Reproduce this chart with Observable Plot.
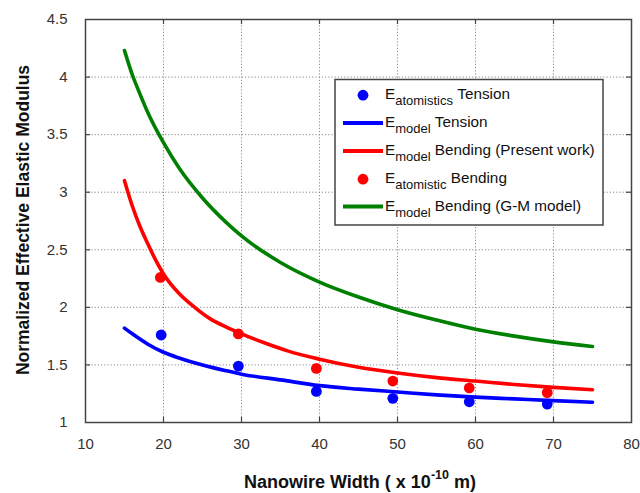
<!DOCTYPE html>
<html>
<head>
<meta charset="utf-8">
<script src="https://cdn.jsdelivr.net/npm/d3@7"></script>
<script src="https://cdn.jsdelivr.net/npm/@observablehq/plot@0.6"></script>
<style>
  html, body { margin: 0; padding: 0; background: #fff; }
  #chart { width: 640px; height: 493px; overflow: hidden; }
</style>
</head>
<body>
<div id="chart"></div>
<script>
// ---- data ----
const xTicks = [10, 20, 30, 40, 50, 60, 70, 80];
const yTicks = [1, 1.5, 2, 2.5, 3, 3.5, 4, 4.5];

// atomistic points
const tensionPtsX = [19.7, 29.6, 39.6, 49.4, 59.2, 69.2];
const tensionPtsY = [1.76, 1.49, 1.27, 1.21, 1.18, 1.16];
const bendingPtsX = [19.6, 29.6, 39.6, 49.4, 59.2, 69.2];
const bendingPtsY = [2.26, 1.77, 1.47, 1.36, 1.30, 1.26];

// model curves
const tensionLineX = [15, 16, 18, 20, 22, 25, 28, 30, 35, 40, 45, 50, 55, 60, 65, 70, 75];
const tensionLineY = [1.82, 1.77, 1.68, 1.61, 1.56, 1.50, 1.45, 1.42, 1.37, 1.32, 1.29, 1.265, 1.24, 1.22, 1.205, 1.19, 1.176];

const presentLineX = [15, 16, 17, 18, 19, 20, 22, 24, 26, 28, 30, 33, 36, 40, 45, 50, 55, 60, 65, 70, 75];
const presentLineY = [3.10, 2.88, 2.70, 2.55, 2.41, 2.29, 2.12, 2.00, 1.90, 1.83, 1.77, 1.69, 1.62, 1.55, 1.48, 1.43, 1.39, 1.36, 1.33, 1.305, 1.285];

const gmLineX = [15, 16, 17, 18, 20, 22, 25, 28, 30, 35, 40, 45, 50, 55, 60, 65, 70, 75];
const gmLineY = [4.23, 4.02, 3.85, 3.69, 3.43, 3.21, 2.95, 2.74, 2.62, 2.39, 2.22, 2.09, 1.98, 1.89, 1.81, 1.75, 1.70, 1.66];

// legend
const legendSubs = ["atomistics", "model", "model", "atomistic", "model"];
const legendRest = ["Tension", "Tension", "Bending (Present work)", "Bending", "Bending (G-M model)"];
const legendKinds = ["dot", "line", "line", "dot", "line"];
const legendColors = ["#0000ff", "#0000ff", "#ff0000", "#ff0000", "#008000"];

const xLabelMain = "Nanowire Width ( x 10";
const xLabelSup = "-10";
const xLabelEnd = " m)";
const yLabel = "Normalized Effective Elastic Modulus";

// ---- build tables ----
const zip = (xs, ys) => xs.map((x, i) => ({x, y: ys[i]}));
const tensionPts = zip(tensionPtsX, tensionPtsY);
const bendingPts = zip(bendingPtsX, bendingPtsY);
const tensionLine = zip(tensionLineX, tensionLineY);
const presentLine = zip(presentLineX, presentLineY);
const gmLine = zip(gmLineX, gmLineY);

const gridX = xTicks.slice(1, -1);
const gridY = yTicks.slice(1, -1);
const tickLenX = 5 / 7.8;
const tickLenY = 5 / 115.1;

const FONT = "'Liberation Sans', Arial, Helvetica, sans-serif";

const chart = Plot.plot({
  width: 640,
  height: 493,
  marginLeft: 85,
  marginRight: 9,
  marginTop: 19,
  marginBottom: 71,
  style: {fontFamily: FONT, fontSize: "15px", background: "#fff", color: "#333"},
  x: {domain: [10, 80]},
  y: {domain: [1, 4.5]},
  marks: [
    Plot.ruleX(gridX, {stroke: "#8a8a8a", strokeWidth: 1, strokeDasharray: "1.2,2"}),
    Plot.ruleY(gridY, {stroke: "#8a8a8a", strokeWidth: 1, strokeDasharray: "1.2,2"}),
    // inward tick marks on all four sides
    Plot.ruleX(gridX, {y1: 1, y2: 1 + tickLenY, stroke: "#444", strokeWidth: 1.2}),
    Plot.ruleX(gridX, {y1: 4.5, y2: 4.5 - tickLenY, stroke: "#444", strokeWidth: 1.2}),
    Plot.ruleY(gridY, {x1: 10, x2: 10 + tickLenX, stroke: "#444", strokeWidth: 1.2}),
    Plot.ruleY(gridY, {x1: 80, x2: 80 - tickLenX, stroke: "#444", strokeWidth: 1.2}),
    Plot.dot(tensionPts, {x: "x", y: "y", r: 5.4, fill: "#0000ff", stroke: "none"}),
    Plot.dot(bendingPts, {x: "x", y: "y", r: 5.4, fill: "#ff0000", stroke: "none"}),
    Plot.line(gmLine, {x: "x", y: "y", stroke: "#008000", strokeWidth: 3.6, curve: "monotone-x"}),
    Plot.line(presentLine, {x: "x", y: "y", stroke: "#ff0000", strokeWidth: 3.6, curve: "monotone-x"}),
    Plot.line(tensionLine, {x: "x", y: "y", stroke: "#0000ff", strokeWidth: 3.6, curve: "monotone-x"}),
    Plot.frame({stroke: "#444", strokeWidth: 1.5}),
    Plot.axisX({ticks: xTicks, tickSize: 0, tickPadding: 16, label: null, fontSize: 15, fill: "#333", tickFormat: (d) => `${d}`}),
    Plot.axisY({ticks: yTicks, tickSize: 0, tickPadding: 18, label: null, fontSize: 15, fill: "#333", tickFormat: (d) => `${d}`})
  ]
});

const svg = d3.select(chart);

// x axis title with superscript
const xt = svg.append("text")
  .attr("x", 360).attr("y", 488)
  .attr("text-anchor", "middle")
  .style("font-family", FONT).style("font-size", "18px").style("font-weight", "bold")
  .attr("fill", "#111");
xt.append("tspan").text(xLabelMain);
xt.append("tspan").attr("dy", -8.7).style("font-size", "12.5px").text(xLabelSup);
xt.append("tspan").attr("dy", 8.7).text(xLabelEnd);

// y axis title
svg.append("text")
  .attr("transform", "translate(28.5,220) rotate(-90)")
  .attr("text-anchor", "middle")
  .style("font-family", FONT).style("font-size", "17.5px").style("font-weight", "bold")
  .attr("fill", "#111")
  .text(yLabel);

// legend box
const lg = svg.append("g").attr("text-anchor", "start");
lg.append("rect")
  .attr("x", 335).attr("y", 79.5).attr("width", 268).attr("height", 145.5)
  .attr("fill", "#fff").attr("stroke", "#444").attr("stroke-width", 1.5);
const baselines = [99, 127, 155, 183, 210.5];
legendSubs.forEach((sub, i) => {
  const b = baselines[i];
  if (legendKinds[i] === "dot") {
    lg.append("circle").attr("cx", 363).attr("cy", b - 3.8).attr("r", 5.4).attr("fill", legendColors[i]);
  } else {
    lg.append("line").attr("x1", 343).attr("x2", 383).attr("y1", b - 4).attr("y2", b - 4)
      .attr("stroke", legendColors[i]).attr("stroke-width", 3.8);
  }
  const t = lg.append("text").attr("x", 385).attr("y", b).attr("text-anchor", "start")
    .style("font-family", FONT).style("font-size", "15.3px").attr("fill", "#111");
  t.append("tspan").text("E");
  t.append("tspan").attr("dy", 6).style("font-size", "13px").text(sub);
  t.append("tspan").attr("dy", -6).text("\u00a0" + legendRest[i]);
});

document.getElementById("chart").appendChild(chart);
</script>
</body>
</html>
